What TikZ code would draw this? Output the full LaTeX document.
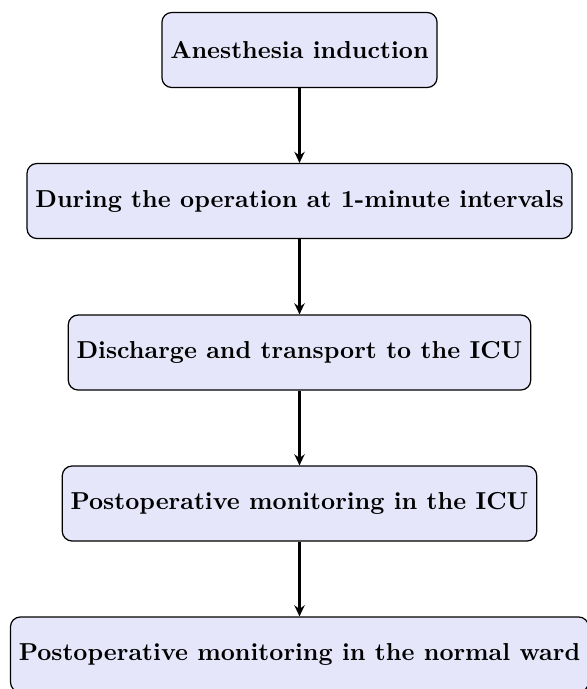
\documentclass[tikz,border=0pt]{standalone}
\usetikzlibrary{arrows.meta}
\definecolor{boxfill}{RGB}{230,230,250}
\tikzset{
  stepbox/.style={draw, rounded corners=4pt, fill=boxfill, font=\bfseries, minimum height=30.6pt, inner xsep=3.4pt, line width=0.5pt},
  flow/.style={-{Stealth[length=4.5pt,width=4.2pt]}, line width=1pt}
}
\begin{document}
\begin{tikzpicture}[x=0.408pt, y=-0.408pt]
\useasboundingbox (0,0) rectangle (587,689);
\node[stepbox] (a) at (299.5,50) {Anesthesia induction};
\node[stepbox] (b) at (299.5,201) {During the operation at 1-minute intervals};
\node[stepbox] (c) at (299.5,352.5) {Discharge and transport to the ICU};
\node[stepbox] (d) at (299.5,503.5) {Postoperative monitoring in the ICU};
\node[stepbox] (e) at (299.5,654.5) {Postoperative monitoring in the normal ward};
\draw[flow] (a) -- (b);
\draw[flow] (b) -- (c);
\draw[flow] (c) -- (d);
\draw[flow] (d) -- (e);
\end{tikzpicture}
\end{document}
